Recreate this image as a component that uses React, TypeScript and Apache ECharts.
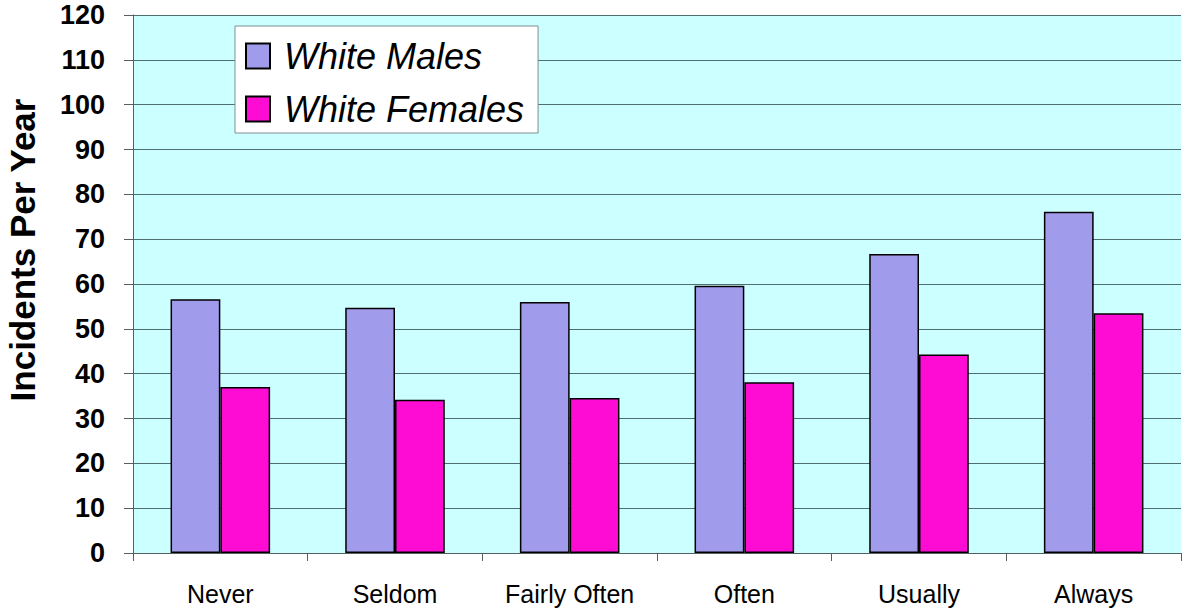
import React, { useEffect, useRef } from "react";
import * as echarts from "echarts";

const categories = ["Never", "Seldom", "Fairly Often", "Often", "Usually", "Always"];
const whiteMales = [56.6, 54.7, 56.0, 59.6, 66.7, 76.1];
const whiteFemales = [37.0, 34.2, 34.6, 38.1, 44.3, 53.5];
const seriesNames = ["White Males", "White Females"];
const yTitle = "Incidents Per Year";

export default function App() {
  const ref = useRef<HTMLDivElement>(null);
  useEffect(() => {
    if (!ref.current) return;
    const chart = echarts.init(ref.current, null, { renderer: "svg" });
    const font = "'Liberation Sans', Arial, sans-serif";
    chart.setOption({
      animation: false,
      backgroundColor: "#ffffff",
      textStyle: { fontFamily: font },
      grid: {
        left: 133,
        right: 2,
        top: 15,
        bottom: 60,
        show: true,
        backgroundColor: "#ccffff",
        borderWidth: 0,
      },
      graphic: [
        {
          type: "text",
          x: 22,
          y: 250,
          rotation: Math.PI / 2,
          style: {
            text: yTitle,
            fontFamily: font,
            fontSize: 35,
            fontWeight: "bold",
            fill: "#000",
            textAlign: "center",
            textVerticalAlign: "middle",
          },
        },
      ],
      legend: {
        orient: "vertical",
        left: 235,
        top: 26,
        padding: [12, 14, 6, 10],
        itemGap: 17,
        itemWidth: 24,
        itemHeight: 25,
        icon: "rect",
        backgroundColor: "#ffffff",
        borderColor: "#7f8f8f",
        borderWidth: 1,
        textStyle: {
          fontFamily: font,
          fontStyle: "italic",
          fontSize: 36,
          lineHeight: 30,
          color: "#000",
          padding: [0, 0, 0, 9],
        },
        data: seriesNames,
      },
      xAxis: {
        type: "category",
        data: categories,
        axisLine: { lineStyle: { color: "#555f5f", width: 1 } },
        axisTick: { show: true, length: 8, lineStyle: { color: "#555f5f" } },
        axisLabel: { color: "#000", fontSize: 25, margin: 28, fontFamily: font },
      },
      yAxis: {
        type: "value",
        min: 0,
        max: 120,
        interval: 10,
        axisLine: { show: true, lineStyle: { color: "#555f5f", width: 1 } },
        axisTick: { show: true, length: 9, lineStyle: { color: "#555f5f" } },
        axisLabel: { color: "#000", fontSize: 27, fontWeight: "bold", margin: 28, fontFamily: font },
        splitLine: { show: true, lineStyle: { color: "#4f6f6f", width: 1 } },
      },
      series: [
        {
          name: seriesNames[0],
          type: "bar",
          data: whiteMales,
          barGap: "0%",
          barCategoryGap: "43%",
          itemStyle: { color: "#a09ceb", borderColor: "#000", borderWidth: 1.5 },
        },
        {
          name: seriesNames[1],
          type: "bar",
          data: whiteFemales,
          barGap: "0%",
          barCategoryGap: "43%",
          itemStyle: { color: "#ff0cd4", borderColor: "#000", borderWidth: 1.5 },
        },
      ],
    });
    return () => chart.dispose();
  }, []);
  return (
    <div
      ref={ref}
      style={{ position: "fixed", left: 0, top: 0, width: 1183, height: 613 }}
    />
  );
}
